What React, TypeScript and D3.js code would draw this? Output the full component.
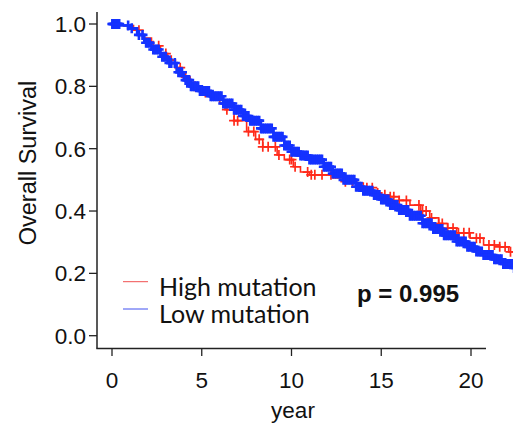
import React from "react";
import * as d3 from "d3";

// High mutation (red) KM step knots
const highTimes = [0, 0.6, 1.2, 1.7, 2.2, 2.7, 3.1, 3.5, 3.9, 4.35, 4.9, 5.5, 6.0, 6.3, 6.8, 7.5, 8.0, 8.4, 9.2, 9.6, 10.1, 10.5, 11.0, 12.3, 12.9, 13.6, 14.0, 14.55, 15.0, 15.5, 16.0, 16.6, 17.2, 17.7, 18.2, 18.7, 19.2, 19.95, 20.7, 21.6, 22.1, 23.0];
const highSurv = [1.0, 0.995, 0.98, 0.955, 0.93, 0.905, 0.884, 0.86, 0.83, 0.8, 0.78, 0.765, 0.745, 0.725, 0.69, 0.655, 0.63, 0.606, 0.58, 0.565, 0.542, 0.525, 0.516, 0.506, 0.494, 0.49, 0.475, 0.458, 0.452, 0.446, 0.434, 0.419, 0.4, 0.378, 0.36, 0.345, 0.33, 0.313, 0.291, 0.285, 0.269, 0.269];
const highCensor = [0.1, 0.3, 1.5, 2.3, 2.6, 3.0, 3.3, 3.8, 4.1, 4.6, 5.2, 6.4, 6.8, 7.0, 7.6, 7.9, 8.2, 8.4, 8.7, 9.1, 9.3, 9.9, 10.0, 10.2, 10.9, 11.1, 11.3, 11.7, 12.2, 13.0, 13.4, 14.2, 14.5, 14.8, 15.2, 15.5, 15.7, 16.0, 16.4, 17.1, 17.3, 17.5, 17.8, 18.2, 18.4, 18.7, 19.0, 19.3, 19.6, 19.9, 20.3, 20.5, 21.0, 21.3, 21.6, 21.9, 22.2];

// Low mutation (blue) KM step knots
const lowTimes = [0, 0.5, 1.0, 1.4, 1.8, 2.2, 2.7, 3.1, 3.6, 4.0, 4.4, 4.9, 5.5, 6.2, 6.8, 7.3, 7.7, 8.3, 9.0, 9.6, 10.0, 10.5, 11.0, 11.8, 12.3, 12.9, 13.6, 14.0, 14.6, 15.0, 15.5, 16.0, 16.6, 17.3, 17.9, 18.5, 19.2, 19.8, 20.3, 20.7, 21.3, 21.8, 22.4, 23.0];
const lowSurv = [1.0, 0.995, 0.986, 0.965, 0.94, 0.918, 0.895, 0.875, 0.845, 0.82, 0.8, 0.785, 0.768, 0.745, 0.725, 0.705, 0.69, 0.665, 0.638, 0.61, 0.59, 0.578, 0.565, 0.542, 0.52, 0.5, 0.478, 0.465, 0.451, 0.437, 0.419, 0.403, 0.385, 0.361, 0.342, 0.322, 0.302, 0.285, 0.27, 0.259, 0.245, 0.23, 0.217, 0.217];
const lowCensor = [0.02, 0.06, 0.1, 0.14, 0.18, 0.22, 0.26, 0.3, 0.35, 0.4, 0.9, 1.1, 1.5, 1.7, 1.9, 2.0, 2.1, 2.3, 2.4, 2.5, 2.6, 2.8, 2.9, 3.0, 3.2, 3.3, 3.5, 3.7, 3.8, 3.9, 4.1, 4.2, 4.3, 4.4, 4.5, 4.6, 4.7, 4.8, 4.9, 5.0, 5.1, 5.2, 5.3, 5.4, 5.5, 5.6, 5.7, 5.8, 5.9, 6.0, 6.1, 6.2, 6.3, 6.4, 6.5, 6.6, 6.7, 6.8, 6.9, 7.0, 7.1, 7.2, 7.3, 7.4, 7.5, 7.6, 7.7, 7.8, 7.9, 8.0, 8.1, 8.2, 8.3, 8.4, 8.5, 8.6, 8.7, 8.8, 8.9, 9.0, 9.1, 9.2, 9.3, 9.4, 9.5, 9.6, 9.7, 9.8, 9.9, 10.0, 10.1, 10.2, 10.3, 10.4, 10.5, 10.6, 10.7, 10.8, 10.9, 11.0, 11.1, 11.2, 11.3, 11.4, 11.5, 11.6, 11.7, 11.8, 11.9, 12.0, 12.1, 12.2, 12.3, 12.4, 12.5, 12.6, 12.7, 12.8, 12.9, 13.0, 13.1, 13.2, 13.3, 13.4, 13.5, 13.6, 13.7, 13.8, 13.9, 14.0, 14.1, 14.2, 14.3, 14.4, 14.5, 14.6, 14.7, 14.8, 14.9, 15.0, 15.1, 15.2, 15.3, 15.4, 15.5, 15.6, 15.7, 15.8, 15.9, 16.0, 16.1, 16.2, 16.3, 16.4, 16.5, 16.6, 16.7, 16.8, 16.9, 17.0, 17.1, 17.2, 17.3, 17.4, 17.5, 17.6, 17.7, 17.8, 17.9, 18.0, 18.1, 18.2, 18.3, 18.4, 18.5, 18.6, 18.7, 18.8, 18.9, 19.0, 19.1, 19.2, 19.3, 19.4, 19.5, 19.6, 19.7, 19.8, 19.9, 20.0, 20.1, 20.2, 20.3, 20.4, 20.5, 20.6, 20.7, 20.8, 20.9, 21.0, 21.1, 21.2, 21.3, 21.4, 21.5, 21.6, 21.7, 21.8, 21.9, 22.0, 22.1, 22.2, 22.3, 22.4, 22.5];

const xTicks = [0, 5, 10, 15, 20];
const yTicks = [0, 0.2, 0.4, 0.6, 0.8, 1.0];
const seriesNames = ["High mutation", "Low mutation"];
const pText = "p = 0.995";

const RED = "#ff2a1a";
const BLUE = "#1432ff";

export default function App() {
  const W = 513, H = 427;
  const x = d3.scaleLinear().domain([0, 20]).range([112, 471]);
  const y = d3.scaleLinear().domain([0, 1]).range([335.7, 24]);
  const line = d3.line<[number, number]>().x(d => x(d[0])).y(d => y(d[1])).curve(d3.curveStepAfter);

  const survAt = (times: number[], surv: number[], t: number) => {
    let s = surv[0];
    for (let i = 0; i < times.length; i++) { if (times[i] <= t) s = surv[i]; else break; }
    return s;
  };

  const series = [
    { times: highTimes, surv: highSurv, censor: highCensor, color: RED, lw: 1.6, mw: 1.7, ms: 5 },
    { times: lowTimes, surv: lowSurv, censor: lowCensor, color: BLUE, lw: 2.6, mw: 2.6, ms: 5 },
  ];
  const axisFont = "Liberation Sans";
  const legendFont = "Lato";

  return (
    <svg width={W} height={H} style={{ position: "absolute", left: 0, top: 0, background: "#fff" }}>
      {series.map((s, si) => (
        <g key={si}>
          <path d={line(s.times.map((t, i) => [t, s.surv[i]] as [number, number])) || ""} fill="none" stroke={s.color} strokeWidth={s.lw} />
          {s.censor.map((t, i) => {
            const cx = x(t), cy = y(survAt(s.times, s.surv, t));
            return <path key={i} d={`M${cx - s.ms},${cy}H${cx + s.ms}M${cx},${cy - s.ms}V${cy + s.ms}`} stroke={s.color} strokeWidth={s.mw} fill="none" />;
          })}
        </g>
      ))}
      {/* axes */}
      <line x1={97} y1={12} x2={97} y2={348.5} stroke="#222" strokeWidth={1.5} />
      <line x1={96.3} y1={348.5} x2={486} y2={348.5} stroke="#222" strokeWidth={1.5} />
      {yTicks.map(v => (
        <g key={v}>
          <line x1={89} x2={97} y1={y(v)} y2={y(v)} stroke="#222" strokeWidth={1.3} />
          <text x={86} y={y(v)} dy="0.36em" textAnchor="end" style={{ fontFamily: axisFont, fontSize: 22.5 }} fill="#111">{v.toFixed(1)}</text>
        </g>
      ))}
      {xTicks.map(v => (
        <g key={v}>
          <line x1={x(v)} x2={x(v)} y1={348.5} y2={356} stroke="#222" strokeWidth={1.3} />
          <text x={x(v)} y={388} textAnchor="middle" style={{ fontFamily: axisFont, fontSize: 22.5 }} fill="#111">{v}</text>
        </g>
      ))}
      <text transform="translate(36,163) rotate(-90)" textAnchor="middle" style={{ fontFamily: axisFont, fontSize: 23.5 }} fill="#111">Overall Survival</text>
      <text x={293} y={418} textAnchor="middle" style={{ fontFamily: axisFont, fontSize: 22.5 }} fill="#111">year</text>
      {/* legend */}
      {seriesNames.map((n, i) => (
        <g key={n}>
          <line x1={123} x2={148} y1={281.7 + i * 27.3} y2={281.7 + i * 27.3} stroke={i === 0 ? "#f05050" : "#4050f0"} strokeWidth={1} />
          <text x={159} y={295.7 + i * 27.3} style={{ fontFamily: legendFont, fontSize: 25 }} fill="#111">{n}</text>
        </g>
      ))}
      <text x={357} y={301.5} style={{ fontFamily: axisFont, fontWeight: "bold", fontSize: 24 }} fill="#111">{pText}</text>
    </svg>
  );
}
